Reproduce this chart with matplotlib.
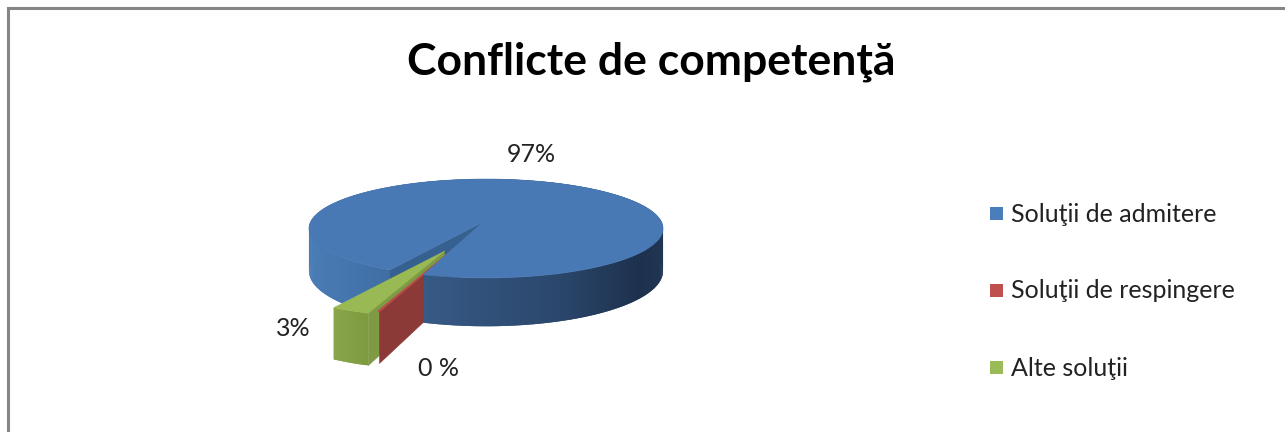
import numpy as np
import matplotlib
matplotlib.use('Agg')
import matplotlib.pyplot as plt
from matplotlib.patches import Polygon, Rectangle

#data
title = 'Conflicte de competenţă'
categories = ['Soluţii de admitere', 'Soluţii de respingere', 'Alte soluţii']
values = [97.0, 0.1, 2.9]
explode = [0.0, 0.56, 0.60]
value_labels = ['97%', '0 %', '3%']

#pie look, all in pixels of the picture
cx, cy = 486, 222
rx, ry = 175.5, 48.6
persp = 0.131
depth = 42.0
start_angle = 119

plt.rcParams['font.family'] = ['Lato', 'DejaVu Sans']

fig = plt.figure(figsize=(12.85, 4.32), dpi=100)
ax = fig.add_axes([0, 0, 1, 1])
ax.set_xlim(0, 1285)
ax.set_ylim(432, 0)
ax.axis('off')


def project(u, v, down=0.0):
  w = 1 - persp * v
  return (cx + rx * u / w, cy + (ry * v + down) / w)


def rim(angle, off=(0.0, 0.0), r=1.0):
  t = np.radians(angle)
  return (off[0] + r * np.cos(t), off[1] + r * np.sin(t))


def shade(x, stops):
  xs = [s[0] for s in stops]
  rgb = [np.interp(x, xs, [s[1][i] for s in stops]) / 255 for i in range(3)]
  return tuple(rgb)


def fill(points, color, z, lw=0.4):
  ax.add_patch(Polygon(points, closed=True, facecolor=color, edgecolor=color, linewidth=lw, zorder=z))


def outer_wall(a0, a1, off, stops, z):
  angles = np.linspace(a0, a1, int(abs(a1 - a0)) + 2)
  step = angles[1] - angles[0]
  for i, a in enumerate(angles[:-1]):
    #each piece runs on under the next one so no seams show
    b = angles[i + 1] if i == len(angles) - 2 else angles[i + 1] + step
    p, q = rim(a, off), rim(b, off)
    quad = [project(*p), project(*q), project(*q, depth), project(*p, depth)]
    fill(quad, shade(quad[0][0], stops), z, 0)


def side_wall(angle, off, color, z):
  p = rim(angle, off)
  fill([project(*off), project(*p), project(*p, depth), project(*off, depth)], color, z)


def top_face(a0, a1, off, color, z, apex=None, lw=0.4):
  angles = np.linspace(a0, a1, int(abs(a1 - a0)) * 2 + 2)
  if apex is None:
    apex = off
  fill([project(*apex)] + [project(*rim(a, off)) for a in angles], color, z, lw)


#slice angles come from the values, clockwise on screen
spans = [v * 3.6 for v in values]
a_blue_0 = start_angle
a_blue_1 = a_blue_0 + spans[0]
a_red_1 = a_blue_1 + spans[1]
a_green_1 = a_red_1 + spans[2]

mid_red = a_blue_1 + spans[1] / 2
off_red = rim(mid_red, r=explode[1])
off_green = rim(111.5, r=explode[2])
apex_blue = (-0.017, 0.0)

blue_stops = [(310, (74, 124, 181)), (386, (64, 111, 166)), (424, (55, 90, 134)),
              (560, (43, 71, 108)), (640, (29, 49, 77)), (662, (31, 53, 81))]
green_stops = [(332, (138, 166, 74)), (372, (125, 154, 63))]

#back to front
outer_wall(a_blue_0, 270, (0, 0), blue_stops, 1)
p_cut = rim(a_blue_0)
fill([project(*apex_blue), project(*p_cut), project(*p_cut, depth), project(*apex_blue, depth)], '#35608f', 2)

outer_wall(a_red_1, a_green_1, off_green, green_stops, 3)
side_wall(a_red_1, off_green, '#7e9a42', 3)
top_face(a_red_1, a_green_1, off_green, '#98b954', 4)

side_wall(a_blue_1, off_red, '#8b3a37', 5)
top_face(a_blue_1, a_red_1, off_red, '#b84c49', 6, lw=1.0)

outer_wall(270, a_blue_1, (0, 0), blue_stops, 7)
top_face(a_blue_0, a_blue_1, (0, 0), '#4879b4', 8, apex=apex_blue)

#frame, top and left only
ax.plot([8, 8, 1285], [432, 8, 8], color='#868686', lw=2.2, solid_joinstyle='miter', zorder=9)

ax.text(651, 62, title, fontsize=32, fontweight='bold', color='black', ha='center', va='center')

#data labels
label_pos = [(531, 155), (438, 368), (293, 329)]
for (x, y), s in zip(label_pos, value_labels):
  ax.text(x, y, s, fontsize=18, color='#222222', ha='center', va='center')

#legend
colors = ['#4a7ebb', '#c0504d', '#9bbb59']
legend_y = [213, 290, 367]
for y, c, name in zip(legend_y, colors, categories):
  ax.add_patch(Rectangle((990, y - 6.5), 13, 13, facecolor=c, edgecolor='none'))
  ax.text(1011, y + 1, name, fontsize=18, color='#222222', ha='left', va='center')

fig.savefig('out.png', dpi=100)
